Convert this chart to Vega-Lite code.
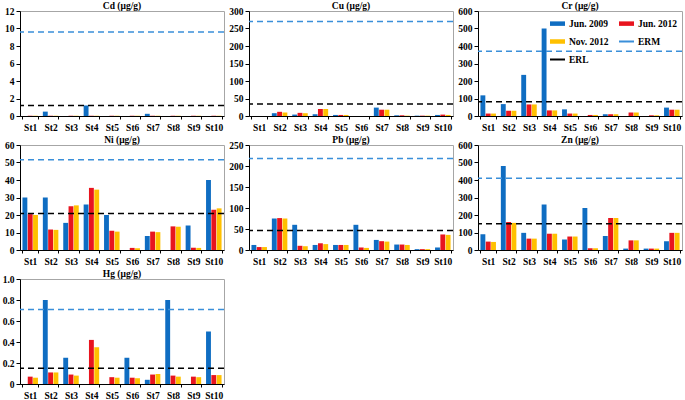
{
  "$schema": "https://vega.github.io/schema/vega-lite/v6.json",
  "padding": {"left": 1, "right": 1, "top": 0, "bottom": 0},
  "background": "white",
  "columns": 3,
  "spacing": 2,
  "resolve": {"scale": {"color": "independent"}, "legend": {"color": "independent"}},
  "config": {
    "font": "Liberation Serif",
    "view": {"stroke": "#a6a6a6", "strokeWidth": 1},
    "axis": {"labelFont": "Liberation Serif", "labelFontWeight": "bold", "labelFontSize": 9.5, "labelColor": "#000", "domainColor": "#000", "tickColor": "#000", "tickSize": 4, "labelPadding": 2, "grid": false, "title": null, "minExtent": 0, "labelOverlap": false},
    "axisX": {"tickBand": "extent", "labelAngle": 0, "tickSize": 3, "labelPadding": 3},
    "axisY": {"minExtent": 0, "labelOverlap": false, "tickCount": 20},
    "title": {"font": "Liberation Serif", "fontWeight": "bold", "fontSize": 9.5, "offset": -4, "color": "#000"}
  },
  "datasets": {
    "bars": [
      {"m":"Cd","t":"St1","s":"Jun. 2009","v":0},{"m":"Cd","t":"St1","s":"Jun. 2012","v":0.03},{"m":"Cd","t":"St1","s":"Nov. 2012","v":0.03},
      {"m":"Cd","t":"St2","s":"Jun. 2009","v":0.5},{"m":"Cd","t":"St2","s":"Jun. 2012","v":0.03},{"m":"Cd","t":"St2","s":"Nov. 2012","v":0.03},
      {"m":"Cd","t":"St3","s":"Jun. 2009","v":0},{"m":"Cd","t":"St3","s":"Jun. 2012","v":0.03},{"m":"Cd","t":"St3","s":"Nov. 2012","v":0.03},
      {"m":"Cd","t":"St4","s":"Jun. 2009","v":1.2},{"m":"Cd","t":"St4","s":"Jun. 2012","v":0.03},{"m":"Cd","t":"St4","s":"Nov. 2012","v":0.03},
      {"m":"Cd","t":"St5","s":"Jun. 2009","v":0},{"m":"Cd","t":"St5","s":"Jun. 2012","v":0.03},{"m":"Cd","t":"St5","s":"Nov. 2012","v":0.03},
      {"m":"Cd","t":"St6","s":"Jun. 2009","v":0},{"m":"Cd","t":"St6","s":"Jun. 2012","v":0.03},{"m":"Cd","t":"St6","s":"Nov. 2012","v":0.03},
      {"m":"Cd","t":"St7","s":"Jun. 2009","v":0.25},{"m":"Cd","t":"St7","s":"Jun. 2012","v":0.03},{"m":"Cd","t":"St7","s":"Nov. 2012","v":0.03},
      {"m":"Cd","t":"St8","s":"Jun. 2009","v":0},{"m":"Cd","t":"St8","s":"Jun. 2012","v":0.03},{"m":"Cd","t":"St8","s":"Nov. 2012","v":0.03},
      {"m":"Cd","t":"St9","s":"Jun. 2009","v":0},{"m":"Cd","t":"St9","s":"Jun. 2012","v":0.03},{"m":"Cd","t":"St9","s":"Nov. 2012","v":0.03},
      {"m":"Cd","t":"St10","s":"Jun. 2009","v":0},{"m":"Cd","t":"St10","s":"Jun. 2012","v":0.03},{"m":"Cd","t":"St10","s":"Nov. 2012","v":0.03},

      {"m":"Cu","t":"St1","s":"Jun. 2009","v":0},{"m":"Cu","t":"St1","s":"Jun. 2012","v":0},{"m":"Cu","t":"St1","s":"Nov. 2012","v":0},
      {"m":"Cu","t":"St2","s":"Jun. 2009","v":8},{"m":"Cu","t":"St2","s":"Jun. 2012","v":12},{"m":"Cu","t":"St2","s":"Nov. 2012","v":10},
      {"m":"Cu","t":"St3","s":"Jun. 2009","v":4},{"m":"Cu","t":"St3","s":"Jun. 2012","v":9},{"m":"Cu","t":"St3","s":"Nov. 2012","v":8},
      {"m":"Cu","t":"St4","s":"Jun. 2009","v":5},{"m":"Cu","t":"St4","s":"Jun. 2012","v":20},{"m":"Cu","t":"St4","s":"Nov. 2012","v":20},
      {"m":"Cu","t":"St5","s":"Jun. 2009","v":3},{"m":"Cu","t":"St5","s":"Jun. 2012","v":3},{"m":"Cu","t":"St5","s":"Nov. 2012","v":3},
      {"m":"Cu","t":"St6","s":"Jun. 2009","v":0},{"m":"Cu","t":"St6","s":"Jun. 2012","v":0},{"m":"Cu","t":"St6","s":"Nov. 2012","v":0},
      {"m":"Cu","t":"St7","s":"Jun. 2009","v":24},{"m":"Cu","t":"St7","s":"Jun. 2012","v":18},{"m":"Cu","t":"St7","s":"Nov. 2012","v":18},
      {"m":"Cu","t":"St8","s":"Jun. 2009","v":2},{"m":"Cu","t":"St8","s":"Jun. 2012","v":2},{"m":"Cu","t":"St8","s":"Nov. 2012","v":1},
      {"m":"Cu","t":"St9","s":"Jun. 2009","v":1},{"m":"Cu","t":"St9","s":"Jun. 2012","v":1},{"m":"Cu","t":"St9","s":"Nov. 2012","v":1},
      {"m":"Cu","t":"St10","s":"Jun. 2009","v":3},{"m":"Cu","t":"St10","s":"Jun. 2012","v":4},{"m":"Cu","t":"St10","s":"Nov. 2012","v":3},

      {"m":"Cr","t":"St1","s":"Jun. 2009","v":118},{"m":"Cr","t":"St1","s":"Jun. 2012","v":14},{"m":"Cr","t":"St1","s":"Nov. 2012","v":14},
      {"m":"Cr","t":"St2","s":"Jun. 2009","v":68},{"m":"Cr","t":"St2","s":"Jun. 2012","v":30},{"m":"Cr","t":"St2","s":"Nov. 2012","v":30},
      {"m":"Cr","t":"St3","s":"Jun. 2009","v":235},{"m":"Cr","t":"St3","s":"Jun. 2012","v":66},{"m":"Cr","t":"St3","s":"Nov. 2012","v":66},
      {"m":"Cr","t":"St4","s":"Jun. 2009","v":500},{"m":"Cr","t":"St4","s":"Jun. 2012","v":32},{"m":"Cr","t":"St4","s":"Nov. 2012","v":32},
      {"m":"Cr","t":"St5","s":"Jun. 2009","v":38},{"m":"Cr","t":"St5","s":"Jun. 2012","v":14},{"m":"Cr","t":"St5","s":"Nov. 2012","v":14},
      {"m":"Cr","t":"St6","s":"Jun. 2009","v":0},{"m":"Cr","t":"St6","s":"Jun. 2012","v":6},{"m":"Cr","t":"St6","s":"Nov. 2012","v":6},
      {"m":"Cr","t":"St7","s":"Jun. 2009","v":10},{"m":"Cr","t":"St7","s":"Jun. 2012","v":10},{"m":"Cr","t":"St7","s":"Nov. 2012","v":10},
      {"m":"Cr","t":"St8","s":"Jun. 2009","v":0},{"m":"Cr","t":"St8","s":"Jun. 2012","v":20},{"m":"Cr","t":"St8","s":"Nov. 2012","v":20},
      {"m":"Cr","t":"St9","s":"Jun. 2009","v":0},{"m":"Cr","t":"St9","s":"Jun. 2012","v":4},{"m":"Cr","t":"St9","s":"Nov. 2012","v":4},
      {"m":"Cr","t":"St10","s":"Jun. 2009","v":48},{"m":"Cr","t":"St10","s":"Jun. 2012","v":36},{"m":"Cr","t":"St10","s":"Nov. 2012","v":36},

      {"m":"Ni","t":"St1","s":"Jun. 2009","v":30},{"m":"Ni","t":"St1","s":"Jun. 2012","v":20.5},{"m":"Ni","t":"St1","s":"Nov. 2012","v":20},
      {"m":"Ni","t":"St2","s":"Jun. 2009","v":30},{"m":"Ni","t":"St2","s":"Jun. 2012","v":11.7},{"m":"Ni","t":"St2","s":"Nov. 2012","v":11.5},
      {"m":"Ni","t":"St3","s":"Jun. 2009","v":15.5},{"m":"Ni","t":"St3","s":"Jun. 2012","v":25},{"m":"Ni","t":"St3","s":"Nov. 2012","v":25.5},
      {"m":"Ni","t":"St4","s":"Jun. 2009","v":26},{"m":"Ni","t":"St4","s":"Jun. 2012","v":35.5},{"m":"Ni","t":"St4","s":"Nov. 2012","v":34.5},
      {"m":"Ni","t":"St5","s":"Jun. 2009","v":20},{"m":"Ni","t":"St5","s":"Jun. 2012","v":11},{"m":"Ni","t":"St5","s":"Nov. 2012","v":10.5},
      {"m":"Ni","t":"St6","s":"Jun. 2009","v":0},{"m":"Ni","t":"St6","s":"Jun. 2012","v":1.2},{"m":"Ni","t":"St6","s":"Nov. 2012","v":1},
      {"m":"Ni","t":"St7","s":"Jun. 2009","v":8},{"m":"Ni","t":"St7","s":"Jun. 2012","v":10.5},{"m":"Ni","t":"St7","s":"Nov. 2012","v":10.2},
      {"m":"Ni","t":"St8","s":"Jun. 2009","v":0},{"m":"Ni","t":"St8","s":"Jun. 2012","v":13.5},{"m":"Ni","t":"St8","s":"Nov. 2012","v":13.3},
      {"m":"Ni","t":"St9","s":"Jun. 2009","v":14},{"m":"Ni","t":"St9","s":"Jun. 2012","v":1.3},{"m":"Ni","t":"St9","s":"Nov. 2012","v":1.2},
      {"m":"Ni","t":"St10","s":"Jun. 2009","v":40},{"m":"Ni","t":"St10","s":"Jun. 2012","v":23},{"m":"Ni","t":"St10","s":"Nov. 2012","v":23.8},

      {"m":"Pb","t":"St1","s":"Jun. 2009","v":12},{"m":"Pb","t":"St1","s":"Jun. 2012","v":7},{"m":"Pb","t":"St1","s":"Nov. 2012","v":7},
      {"m":"Pb","t":"St2","s":"Jun. 2009","v":75},{"m":"Pb","t":"St2","s":"Jun. 2012","v":76},{"m":"Pb","t":"St2","s":"Nov. 2012","v":75},
      {"m":"Pb","t":"St3","s":"Jun. 2009","v":60},{"m":"Pb","t":"St3","s":"Jun. 2012","v":10},{"m":"Pb","t":"St3","s":"Nov. 2012","v":9},
      {"m":"Pb","t":"St4","s":"Jun. 2009","v":12},{"m":"Pb","t":"St4","s":"Jun. 2012","v":16},{"m":"Pb","t":"St4","s":"Nov. 2012","v":14},
      {"m":"Pb","t":"St5","s":"Jun. 2009","v":12},{"m":"Pb","t":"St5","s":"Jun. 2012","v":12},{"m":"Pb","t":"St5","s":"Nov. 2012","v":12},
      {"m":"Pb","t":"St6","s":"Jun. 2009","v":60},{"m":"Pb","t":"St6","s":"Jun. 2012","v":6},{"m":"Pb","t":"St6","s":"Nov. 2012","v":5},
      {"m":"Pb","t":"St7","s":"Jun. 2009","v":24},{"m":"Pb","t":"St7","s":"Jun. 2012","v":21},{"m":"Pb","t":"St7","s":"Nov. 2012","v":20},
      {"m":"Pb","t":"St8","s":"Jun. 2009","v":13},{"m":"Pb","t":"St8","s":"Jun. 2012","v":13},{"m":"Pb","t":"St8","s":"Nov. 2012","v":12},
      {"m":"Pb","t":"St9","s":"Jun. 2009","v":2},{"m":"Pb","t":"St9","s":"Jun. 2012","v":2},{"m":"Pb","t":"St9","s":"Nov. 2012","v":2},
      {"m":"Pb","t":"St10","s":"Jun. 2009","v":6},{"m":"Pb","t":"St10","s":"Jun. 2012","v":37},{"m":"Pb","t":"St10","s":"Nov. 2012","v":36},

      {"m":"Zn","t":"St1","s":"Jun. 2009","v":90},{"m":"Zn","t":"St1","s":"Jun. 2012","v":48},{"m":"Zn","t":"St1","s":"Nov. 2012","v":46},
      {"m":"Zn","t":"St2","s":"Jun. 2009","v":480},{"m":"Zn","t":"St2","s":"Jun. 2012","v":160},{"m":"Zn","t":"St2","s":"Nov. 2012","v":155},
      {"m":"Zn","t":"St3","s":"Jun. 2009","v":98},{"m":"Zn","t":"St3","s":"Jun. 2012","v":65},{"m":"Zn","t":"St3","s":"Nov. 2012","v":65},
      {"m":"Zn","t":"St4","s":"Jun. 2009","v":260},{"m":"Zn","t":"St4","s":"Jun. 2012","v":93},{"m":"Zn","t":"St4","s":"Nov. 2012","v":93},
      {"m":"Zn","t":"St5","s":"Jun. 2009","v":60},{"m":"Zn","t":"St5","s":"Jun. 2012","v":77},{"m":"Zn","t":"St5","s":"Nov. 2012","v":77},
      {"m":"Zn","t":"St6","s":"Jun. 2009","v":240},{"m":"Zn","t":"St6","s":"Jun. 2012","v":10},{"m":"Zn","t":"St6","s":"Nov. 2012","v":10},
      {"m":"Zn","t":"St7","s":"Jun. 2009","v":80},{"m":"Zn","t":"St7","s":"Jun. 2012","v":183},{"m":"Zn","t":"St7","s":"Nov. 2012","v":183},
      {"m":"Zn","t":"St8","s":"Jun. 2009","v":8},{"m":"Zn","t":"St8","s":"Jun. 2012","v":55},{"m":"Zn","t":"St8","s":"Nov. 2012","v":55},
      {"m":"Zn","t":"St9","s":"Jun. 2009","v":8},{"m":"Zn","t":"St9","s":"Jun. 2012","v":8},{"m":"Zn","t":"St9","s":"Nov. 2012","v":8},
      {"m":"Zn","t":"St10","s":"Jun. 2009","v":50},{"m":"Zn","t":"St10","s":"Jun. 2012","v":98},{"m":"Zn","t":"St10","s":"Nov. 2012","v":98},

      {"m":"Hg","t":"St1","s":"Jun. 2009","v":0},{"m":"Hg","t":"St1","s":"Jun. 2012","v":0.07},{"m":"Hg","t":"St1","s":"Nov. 2012","v":0.06},
      {"m":"Hg","t":"St2","s":"Jun. 2009","v":0.8},{"m":"Hg","t":"St2","s":"Jun. 2012","v":0.11},{"m":"Hg","t":"St2","s":"Nov. 2012","v":0.11},
      {"m":"Hg","t":"St3","s":"Jun. 2009","v":0.25},{"m":"Hg","t":"St3","s":"Jun. 2012","v":0.09},{"m":"Hg","t":"St3","s":"Nov. 2012","v":0.08},
      {"m":"Hg","t":"St4","s":"Jun. 2009","v":0},{"m":"Hg","t":"St4","s":"Jun. 2012","v":0.42},{"m":"Hg","t":"St4","s":"Nov. 2012","v":0.35},
      {"m":"Hg","t":"St5","s":"Jun. 2009","v":0},{"m":"Hg","t":"St5","s":"Jun. 2012","v":0.065},{"m":"Hg","t":"St5","s":"Nov. 2012","v":0.06},
      {"m":"Hg","t":"St6","s":"Jun. 2009","v":0.25},{"m":"Hg","t":"St6","s":"Jun. 2012","v":0.06},{"m":"Hg","t":"St6","s":"Nov. 2012","v":0.055},
      {"m":"Hg","t":"St7","s":"Jun. 2009","v":0.04},{"m":"Hg","t":"St7","s":"Jun. 2012","v":0.09},{"m":"Hg","t":"St7","s":"Nov. 2012","v":0.095},
      {"m":"Hg","t":"St8","s":"Jun. 2009","v":0.8},{"m":"Hg","t":"St8","s":"Jun. 2012","v":0.08},{"m":"Hg","t":"St8","s":"Nov. 2012","v":0.07},
      {"m":"Hg","t":"St9","s":"Jun. 2009","v":0},{"m":"Hg","t":"St9","s":"Jun. 2012","v":0.07},{"m":"Hg","t":"St9","s":"Nov. 2012","v":0.065},
      {"m":"Hg","t":"St10","s":"Jun. 2009","v":0.5},{"m":"Hg","t":"St10","s":"Jun. 2012","v":0.085},{"m":"Hg","t":"St10","s":"Nov. 2012","v":0.085}
    ],
    "thr": [
      {"m":"Cd","ERM":9.6,"ERL":1.2},
      {"m":"Cu","ERM":270,"ERL":34},
      {"m":"Cr","ERM":370,"ERL":81},
      {"m":"Ni","ERM":51.6,"ERL":20.9},
      {"m":"Pb","ERM":218,"ERL":46.7},
      {"m":"Zn","ERM":410,"ERL":150},
      {"m":"Hg","ERM":0.71,"ERL":0.15}
    ]
  },
  "concat": [
    {
      "width": 204, "height": 105,
      "title": "Cd (μg/g)",
      "layer": [
        {"data": {"name": "bars"}, "transform": [{"filter": "datum.m=='Cd'"}], "mark": {"type": "bar"},
         "encoding": {
           "x": {"field": "t", "type": "nominal", "sort": ["St1","St2","St3","St4","St5","St6","St7","St8","St9","St10"], "scale": {"paddingInner": 0.24, "paddingOuter": 0.12}},
           "xOffset": {"field": "s", "type": "nominal", "sort": ["Jun. 2009","Jun. 2012","Nov. 2012"], "scale": {"paddingInner": 0.08}},
           "y": {"field": "v", "type": "quantitative", "scale": {"domain": [0, 12], "nice": false}, "axis": {"values": [0,2,4,6,8,10,12], "format": "d", "tickCount": 20, "labelOverlap": false}},
           "color": {"field": "s", "type": "nominal", "scale": {"domain": ["Jun. 2009","Jun. 2012","Nov. 2012","ERM","ERL"], "range": ["#0f6dc2","#e8141e","#ffc000","#3a8fd9","#000000"]}, "legend": null}
         }},
        {"data": {"name": "thr"}, "transform": [{"filter": "datum.m=='Cd'"}], "mark": {"type": "rule", "color": "#3a8fd9", "strokeDash": [6, 4], "strokeWidth": 1.5}, "encoding": {"y": {"field": "ERM", "type": "quantitative"}}},
        {"data": {"name": "thr"}, "transform": [{"filter": "datum.m=='Cd'"}], "mark": {"type": "rule", "color": "#000000", "strokeDash": [6, 4], "strokeWidth": 1.5}, "encoding": {"y": {"field": "ERL", "type": "quantitative"}}}
      ]
    },
    {
      "width": 204, "height": 105,
      "title": "Cu (μg/g)",
      "layer": [
        {"data": {"name": "bars"}, "transform": [{"filter": "datum.m=='Cu'"}], "mark": {"type": "bar"},
         "encoding": {
           "x": {"field": "t", "type": "nominal", "sort": ["St1","St2","St3","St4","St5","St6","St7","St8","St9","St10"], "scale": {"paddingInner": 0.24, "paddingOuter": 0.12}},
           "xOffset": {"field": "s", "type": "nominal", "sort": ["Jun. 2009","Jun. 2012","Nov. 2012"], "scale": {"paddingInner": 0.08}},
           "y": {"field": "v", "type": "quantitative", "scale": {"domain": [0, 300], "nice": false}, "axis": {"values": [0,50,100,150,200,250,300], "format": "d", "tickCount": 20, "labelOverlap": false}},
           "color": {"field": "s", "type": "nominal", "scale": {"domain": ["Jun. 2009","Jun. 2012","Nov. 2012","ERM","ERL"], "range": ["#0f6dc2","#e8141e","#ffc000","#3a8fd9","#000000"]}, "legend": null}
         }},
        {"data": {"name": "thr"}, "transform": [{"filter": "datum.m=='Cu'"}], "mark": {"type": "rule", "color": "#3a8fd9", "strokeDash": [6, 4], "strokeWidth": 1.5}, "encoding": {"y": {"field": "ERM", "type": "quantitative"}}},
        {"data": {"name": "thr"}, "transform": [{"filter": "datum.m=='Cu'"}], "mark": {"type": "rule", "color": "#000000", "strokeDash": [6, 4], "strokeWidth": 1.5}, "encoding": {"y": {"field": "ERL", "type": "quantitative"}}}
      ]
    },
    {
      "width": 204, "height": 105,
      "title": "Cr (μg/g)",
      "layer": [
        {"data": {"name": "bars"}, "transform": [{"filter": "datum.m=='Cr'"}], "mark": {"type": "bar"},
         "encoding": {
           "x": {"field": "t", "type": "nominal", "sort": ["St1","St2","St3","St4","St5","St6","St7","St8","St9","St10"], "scale": {"paddingInner": 0.24, "paddingOuter": 0.12}},
           "xOffset": {"field": "s", "type": "nominal", "sort": ["Jun. 2009","Jun. 2012","Nov. 2012"], "scale": {"paddingInner": 0.08}},
           "y": {"field": "v", "type": "quantitative", "scale": {"domain": [0, 600], "nice": false}, "axis": {"values": [0,100,200,300,400,500,600], "format": "d", "tickCount": 20, "labelOverlap": false}},
           "color": {"field": "s", "type": "nominal", "scale": {"domain": ["Jun. 2009","Jun. 2012","Nov. 2012","ERM","ERL"], "range": ["#0f6dc2","#e8141e","#ffc000","#3a8fd9","#000000"]},
             "legend": {
               "title": null, "orient": "top-right", "offset": 4, "direction": "horizontal", "columns": 2, "columnPadding": 6, "rowPadding": 3,
               "labelFont": "Liberation Serif", "labelFontWeight": "bold", "labelFontSize": 9.5, "labelColor": "#000", "labelOffset": 3,
               "symbolSize": 225,
               "encode": {
                 "symbols": {"update": {
                   "shape": {"signal": "(datum.value=='ERM' || datum.value=='ERL') ? 'M-1,0H1' : 'M-1,-0.3H1V0.3H-1Z'"},
                   "size": {"value": 225},
                   "stroke": {"signal": "datum.value=='ERM' ? '#3a8fd9' : (datum.value=='ERL' ? '#000000' : 'transparent')"},
                   "strokeWidth": {"value": 2}
                 }}
               }
             }}
         }},
        {"data": {"name": "thr"}, "transform": [{"filter": "datum.m=='Cr'"}], "mark": {"type": "rule", "color": "#3a8fd9", "strokeDash": [6, 4], "strokeWidth": 1.5}, "encoding": {"y": {"field": "ERM", "type": "quantitative"}}},
        {"data": {"name": "thr"}, "transform": [{"filter": "datum.m=='Cr'"}], "mark": {"type": "rule", "color": "#000000", "strokeDash": [6, 4], "strokeWidth": 1.5}, "encoding": {"y": {"field": "ERL", "type": "quantitative"}}}
      ]
    },
    {
      "width": 204, "height": 105,
      "title": "Ni (μg/g)",
      "layer": [
        {"data": {"name": "bars"}, "transform": [{"filter": "datum.m=='Ni'"}], "mark": {"type": "bar"},
         "encoding": {
           "x": {"field": "t", "type": "nominal", "sort": ["St1","St2","St3","St4","St5","St6","St7","St8","St9","St10"], "scale": {"paddingInner": 0.24, "paddingOuter": 0.12}},
           "xOffset": {"field": "s", "type": "nominal", "sort": ["Jun. 2009","Jun. 2012","Nov. 2012"], "scale": {"paddingInner": 0.08}},
           "y": {"field": "v", "type": "quantitative", "scale": {"domain": [0, 60], "nice": false}, "axis": {"values": [0,10,20,30,40,50,60], "format": "d", "tickCount": 20, "labelOverlap": false}},
           "color": {"field": "s", "type": "nominal", "scale": {"domain": ["Jun. 2009","Jun. 2012","Nov. 2012","ERM","ERL"], "range": ["#0f6dc2","#e8141e","#ffc000","#3a8fd9","#000000"]}, "legend": null}
         }},
        {"data": {"name": "thr"}, "transform": [{"filter": "datum.m=='Ni'"}], "mark": {"type": "rule", "color": "#3a8fd9", "strokeDash": [6, 4], "strokeWidth": 1.5}, "encoding": {"y": {"field": "ERM", "type": "quantitative"}}},
        {"data": {"name": "thr"}, "transform": [{"filter": "datum.m=='Ni'"}], "mark": {"type": "rule", "color": "#000000", "strokeDash": [6, 4], "strokeWidth": 1.5}, "encoding": {"y": {"field": "ERL", "type": "quantitative"}}}
      ]
    },
    {
      "width": 204, "height": 105,
      "title": "Pb (μg/g)",
      "layer": [
        {"data": {"name": "bars"}, "transform": [{"filter": "datum.m=='Pb'"}], "mark": {"type": "bar"},
         "encoding": {
           "x": {"field": "t", "type": "nominal", "sort": ["St1","St2","St3","St4","St5","St6","St7","St8","St9","St10"], "scale": {"paddingInner": 0.24, "paddingOuter": 0.12}},
           "xOffset": {"field": "s", "type": "nominal", "sort": ["Jun. 2009","Jun. 2012","Nov. 2012"], "scale": {"paddingInner": 0.08}},
           "y": {"field": "v", "type": "quantitative", "scale": {"domain": [0, 250], "nice": false}, "axis": {"values": [0,50,100,150,200,250], "format": "d", "tickCount": 20, "labelOverlap": false}},
           "color": {"field": "s", "type": "nominal", "scale": {"domain": ["Jun. 2009","Jun. 2012","Nov. 2012","ERM","ERL"], "range": ["#0f6dc2","#e8141e","#ffc000","#3a8fd9","#000000"]}, "legend": null}
         }},
        {"data": {"name": "thr"}, "transform": [{"filter": "datum.m=='Pb'"}], "mark": {"type": "rule", "color": "#3a8fd9", "strokeDash": [6, 4], "strokeWidth": 1.5}, "encoding": {"y": {"field": "ERM", "type": "quantitative"}}},
        {"data": {"name": "thr"}, "transform": [{"filter": "datum.m=='Pb'"}], "mark": {"type": "rule", "color": "#000000", "strokeDash": [6, 4], "strokeWidth": 1.5}, "encoding": {"y": {"field": "ERL", "type": "quantitative"}}}
      ]
    },
    {
      "width": 204, "height": 105,
      "title": "Zn (μg/g)",
      "layer": [
        {"data": {"name": "bars"}, "transform": [{"filter": "datum.m=='Zn'"}], "mark": {"type": "bar"},
         "encoding": {
           "x": {"field": "t", "type": "nominal", "sort": ["St1","St2","St3","St4","St5","St6","St7","St8","St9","St10"], "scale": {"paddingInner": 0.24, "paddingOuter": 0.12}},
           "xOffset": {"field": "s", "type": "nominal", "sort": ["Jun. 2009","Jun. 2012","Nov. 2012"], "scale": {"paddingInner": 0.08}},
           "y": {"field": "v", "type": "quantitative", "scale": {"domain": [0, 600], "nice": false}, "axis": {"values": [0,100,200,300,400,500,600], "format": "d", "tickCount": 20, "labelOverlap": false}},
           "color": {"field": "s", "type": "nominal", "scale": {"domain": ["Jun. 2009","Jun. 2012","Nov. 2012","ERM","ERL"], "range": ["#0f6dc2","#e8141e","#ffc000","#3a8fd9","#000000"]}, "legend": null}
         }},
        {"data": {"name": "thr"}, "transform": [{"filter": "datum.m=='Zn'"}], "mark": {"type": "rule", "color": "#3a8fd9", "strokeDash": [6, 4], "strokeWidth": 1.5}, "encoding": {"y": {"field": "ERM", "type": "quantitative"}}},
        {"data": {"name": "thr"}, "transform": [{"filter": "datum.m=='Zn'"}], "mark": {"type": "rule", "color": "#000000", "strokeDash": [6, 4], "strokeWidth": 1.5}, "encoding": {"y": {"field": "ERL", "type": "quantitative"}}}
      ]
    },
    {
      "width": 204, "height": 105,
      "title": "Hg (μg/g)",
      "layer": [
        {"data": {"name": "bars"}, "transform": [{"filter": "datum.m=='Hg'"}], "mark": {"type": "bar"},
         "encoding": {
           "x": {"field": "t", "type": "nominal", "sort": ["St1","St2","St3","St4","St5","St6","St7","St8","St9","St10"], "scale": {"paddingInner": 0.24, "paddingOuter": 0.12}},
           "xOffset": {"field": "s", "type": "nominal", "sort": ["Jun. 2009","Jun. 2012","Nov. 2012"], "scale": {"paddingInner": 0.08}},
           "y": {"field": "v", "type": "quantitative", "scale": {"domain": [0, 1], "nice": false}, "axis": {"values": [0,0.2,0.4,0.6,0.8,1], "tickCount": 20, "labelOverlap": false, "labelExpr": "datum.value == 0 ? '0' : format(datum.value, '.1f')"}},
           "color": {"field": "s", "type": "nominal", "scale": {"domain": ["Jun. 2009","Jun. 2012","Nov. 2012","ERM","ERL"], "range": ["#0f6dc2","#e8141e","#ffc000","#3a8fd9","#000000"]}, "legend": null}
         }},
        {"data": {"name": "thr"}, "transform": [{"filter": "datum.m=='Hg'"}], "mark": {"type": "rule", "color": "#3a8fd9", "strokeDash": [6, 4], "strokeWidth": 1.5}, "encoding": {"y": {"field": "ERM", "type": "quantitative"}}},
        {"data": {"name": "thr"}, "transform": [{"filter": "datum.m=='Hg'"}], "mark": {"type": "rule", "color": "#000000", "strokeDash": [6, 4], "strokeWidth": 1.5}, "encoding": {"y": {"field": "ERL", "type": "quantitative"}}}
      ]
    }
  ]
}
